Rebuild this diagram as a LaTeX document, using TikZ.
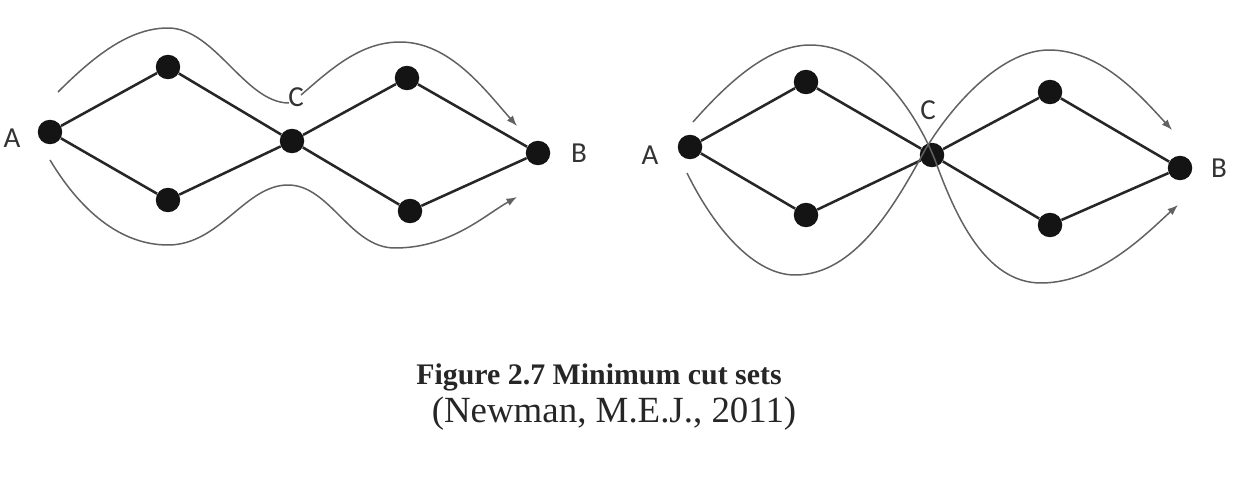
\documentclass[tikz,border=0pt]{standalone}
\usepackage{fontspec}
\setmainfont{Liberation Serif}
\newfontfamily\lblfont{Carlito}
\usetikzlibrary{arrows.meta}
\tikzset{
  vtx/.style={shape=circle, fill=black!92, minimum size=0.49cm, inner sep=0pt},
  edge/.style={line width=1.45pt, black!85},
  route/.style={line width=0.85pt, black!62},
  routearr/.style={route, -{Latex[length=6pt,width=4.5pt]}},
  lbl/.style={font=\lblfont\fontsize{16.5}{16.5}\selectfont, text=black!80, inner sep=0pt},
}

\begin{document}
\begin{tikzpicture}[x=0.02cm, y=-0.02cm]
\useasboundingbox (0,0) rectangle (1234,483);

% left graph: two disjoint routes A -> B
\node[vtx] (a1) at (50,132) {};
\node[vtx] (t1) at (168,67) {};
\node[vtx] (s1) at (168,200) {};
\node[vtx] (c1) at (292,141) {};
\node[vtx] (t2) at (407,78) {};
\node[vtx] (s2) at (410,211) {};
\node[vtx] (b1) at (538,153) {};
\draw[edge] (a1) -- (t1) -- (c1) -- (t2) -- (b1);
\draw[edge] (a1) -- (s1) -- (c1) -- (s2) -- (b1);
\node[lbl] (la1) at (12,138) {A};
\node[lbl] (lb1) at (579,153) {B};
\node[lbl] (lc1) at (296,97) {C};
\draw[route] (58,92) .. controls (95,55) and (130,28) .. (168,28)
  .. controls (215,28) and (245,103) .. (289,103);
\draw[routearr] (301,95) .. controls (330,70) and (360,42) .. (400,42)
  .. controls (450,42) and (485,90) .. (517,126);
\draw[routearr] (50,160) .. controls (80,210) and (120,245) .. (168,245)
  .. controls (220,245) and (245,185) .. (288,185)
  .. controls (330,185) and (350,248) .. (395,248)
  .. controls (450,248) and (485,215) .. (517,197);

% right graph: both routes pass through C
\node[vtx] (a2) at (690,147) {};
\node[vtx] (t3) at (806,82) {};
\node[vtx] (s3) at (806,215) {};
\node[vtx] (c2) at (932,155) {};
\node[vtx] (t4) at (1050,92) {};
\node[vtx] (s4) at (1050,225) {};
\node[vtx] (b2) at (1180,168) {};
\draw[edge] (a2) -- (t3) -- (c2) -- (t4) -- (b2);
\draw[edge] (a2) -- (s3) -- (c2) -- (s4) -- (b2);
\node[lbl] (la2) at (650,155) {A};
\node[lbl] (lb2) at (1219,168) {B};
\node[lbl] (lc2) at (928,110) {C};
\draw[routearr] (693,122) .. controls (730,80) and (770,45) .. (810,45)
  .. controls (870,45) and (915,110) .. (935,160)
  .. controls (955,215) and (985,283) .. (1041,283)
  .. controls (1100,283) and (1150,230) .. (1178,205);
\draw[routearr] (687,173) .. controls (715,230) and (755,275) .. (795,275)
  .. controls (855,275) and (895,205) .. (925,150)
  .. controls (950,108) and (1000,50) .. (1049,50)
  .. controls (1100,50) and (1140,95) .. (1172,130);

% caption
\node[anchor=base, inner sep=0pt, font=\bfseries\fontsize{17}{17}\selectfont, text=black!85] (cap) at (599,384) {Figure 2.7 Minimum cut sets};
\node[anchor=base, inner sep=0pt, font=\fontsize{21}{21}\selectfont, text=black!85] (src) at (614,422) {(Newman, M.E.J., 2011)};
\end{tikzpicture}
\end{document}
